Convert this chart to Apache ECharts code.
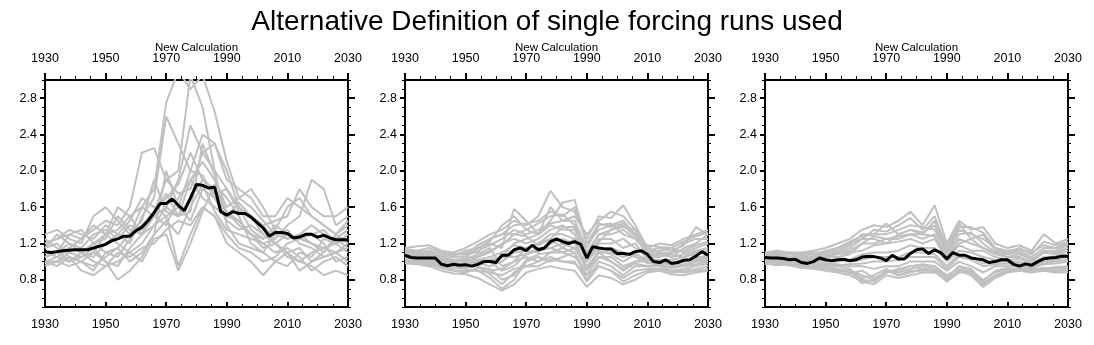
<!DOCTYPE html>
<html>
<head>
<meta charset="utf-8">
<script src="https://cdn.jsdelivr.net/npm/echarts@6/dist/echarts.min.js"></script>
<style>
html,body{margin:0;padding:0;background:#fff;}
#chart{width:1094px;height:345px;}
</style>
</head>
<body>
<div id="chart"></div>
<script>
// ---------- DATA ----------
const titleText = "Alternative Definition of single forcing runs used";
const topAxisName = "New Calculation";
const xTickLabels = [1930, 1950, 1970, 1990, 2010, 2030];
const xMinorTicks = [1930,1935,1940,1945,1950,1955,1960,1965,1970,1975,1980,1985,1990,1995,2000,2005,2010,2015,2020,2025,2030];
const yTickLabels = [0.8, 1.2, 1.6, 2.0, 2.4, 2.8];
const yMinorTicks = [0.5,0.6,0.7,0.8,0.9,1.0,1.1,1.2,1.3,1.4,1.5,1.6,1.7,1.8,1.9,2.0,2.1,2.2,2.3,2.4,2.5,2.6,2.7,2.8,2.9,3.0];

// member years (every 4 years)
const years4 = [1930,1934,1938,1942,1946,1950,1954,1958,1962,1966,1970,1974,1978,1982,1986,1990,1994,1998,2002,2006,2010,2014,2018,2022,2026,2030];
// mean years (every 2 years)
const years2 = [1930,1932,1934,1936,1938,1940,1942,1944,1946,1948,1950,1952,1954,1956,1958,1960,1962,1964,1966,1968,1970,1972,1974,1976,1978,1980,1982,1984,1986,1988,1990,1992,1994,1996,1998,2000,2002,2004,2006,2008,2010,2012,2014,2016,2018,2020,2022,2024,2026,2028,2030];

// Panel 1 members
const p1m1  = [1.05,1.1,1.15,1.1,1.2,1.3,1.35,1.5,1.6,1.8,2.75,3.1,2.9,3.05,2.65,2.1,1.7,1.6,1.45,1.3,1.25,1.3,1.2,1.15,1.1,1.2];
const p1m2  = [1.2,1.25,1.3,1.25,1.35,1.45,1.4,1.6,2.2,2.25,1.9,2.0,3.05,2.7,2.0,1.8,1.55,1.5,1.3,1.2,1.3,1.25,1.3,1.35,1.2,1.3];
const p1m3  = [1.0,1.05,1.0,1.1,1.05,1.2,1.3,1.2,1.5,1.7,2.6,2.3,2.0,2.4,2.3,1.9,1.8,1.7,1.5,1.5,1.7,1.6,1.5,1.4,1.3,1.45];
const p1m4  = [1.1,1.1,1.2,1.15,1.3,1.35,1.25,1.4,1.35,1.5,1.6,1.9,2.5,2.2,2.3,2.0,1.6,1.5,1.4,1.2,1.1,1.15,1.0,1.05,1.1,1.0];
const p1m5  = [1.3,1.35,1.25,1.2,1.5,1.6,1.45,1.3,1.45,1.9,1.55,1.5,1.7,1.9,1.8,1.55,1.45,1.3,1.2,1.25,1.4,1.5,1.9,1.8,1.4,1.5];
const p1m6  = [0.95,1.0,1.05,0.9,0.85,0.95,1.0,1.1,1.2,1.4,1.5,0.95,1.3,1.6,1.5,1.2,1.1,1.0,0.85,1.0,1.1,1.0,0.95,0.85,0.9,0.85];
const p1m7  = [1.0,1.0,1.1,1.05,1.15,1.0,0.8,0.9,1.05,1.3,2.0,1.6,1.45,1.8,1.7,1.45,1.35,1.4,1.3,1.2,1.05,1.0,1.1,1.15,1.2,1.1];
const p1m8  = [1.15,1.2,1.05,1.0,0.9,1.1,1.15,1.3,1.6,1.5,1.4,1.7,1.9,2.1,1.9,1.6,1.7,1.8,1.6,1.35,1.25,1.3,1.4,1.3,1.25,1.35];
const p1m9  = [1.05,1.1,1.3,1.35,1.2,1.25,1.5,1.35,1.3,1.55,1.9,1.75,1.8,2.2,2.0,1.4,1.2,1.15,1.1,1.3,1.35,1.2,1.15,1.05,1.1,1.15];
const p1m10 = [1.25,1.15,1.0,1.1,1.0,0.95,1.1,1.05,1.15,1.2,1.35,1.45,1.4,1.6,1.5,1.3,1.15,1.1,1.0,1.05,1.2,1.25,1.3,1.2,1.0,1.05];
const p1m11 = [0.98,1.0,0.95,1.0,1.1,1.3,1.6,1.5,1.3,1.4,1.6,1.5,1.9,1.7,1.6,1.5,1.65,1.5,1.4,1.45,1.5,1.8,1.6,1.5,1.5,1.6];
const p1m12 = [1.1,1.05,1.15,1.25,1.4,1.3,1.2,1.1,1.0,1.25,1.3,0.9,1.2,1.55,1.85,1.7,1.5,1.2,1.1,1.0,0.95,1.1,1.05,1.25,1.2,1.25];
const p1m13 = [1.15,1.3,1.2,1.1,1.2,1.1,1.05,1.25,1.4,1.55,1.7,1.85,2.2,1.9,1.75,1.8,1.6,1.35,1.25,1.4,1.3,1.25,1.2,1.1,1.3,1.2];
const p1m14 = [1.0,0.95,1.05,1.0,0.95,1.05,1.15,1.0,1.1,1.3,1.45,1.3,1.6,1.85,1.55,1.35,1.3,1.25,1.2,1.1,1.15,1.05,0.9,1.0,1.05,0.95];
const p1m15 = [1.2,1.25,1.35,1.3,1.25,1.4,1.3,1.45,1.7,1.6,1.5,1.6,2.0,1.95,1.7,1.55,1.4,1.3,1.25,1.35,1.6,1.7,1.5,1.4,1.3,1.4];
const p1m16 = [1.05,1.1,1.0,1.05,1.1,1.0,0.95,1.15,1.3,1.5,1.75,1.5,1.55,2.3,1.95,1.5,1.45,1.3,1.15,1.2,1.1,0.9,1.0,1.1,1.25,1.15];
const p1Mean = [1.11,1.10,1.11,1.12,1.125,1.13,1.13,1.13,1.15,1.17,1.19,1.23,1.25,1.28,1.28,1.34,1.38,1.45,1.54,1.64,1.64,1.69,1.62,1.56,1.70,1.85,1.84,1.81,1.82,1.55,1.51,1.55,1.53,1.53,1.49,1.43,1.37,1.28,1.32,1.32,1.31,1.26,1.27,1.30,1.30,1.27,1.29,1.26,1.24,1.24,1.24];

// Panel 2 members
const p2m1  = [1.15,1.17,1.18,1.12,1.1,1.15,1.22,1.3,1.35,1.45,1.4,1.5,1.78,1.6,1.55,1.25,1.5,1.48,1.62,1.4,1.15,1.2,1.18,1.25,1.3,1.35];
const p2m2  = [0.98,0.97,0.95,0.9,0.87,0.86,0.82,0.75,0.68,0.75,0.88,0.92,0.95,0.92,0.9,0.72,0.85,0.82,0.75,0.8,0.88,0.9,0.86,0.85,0.88,0.9];
const p2m3  = [1.05,1.08,1.1,1.0,1.0,1.05,1.15,1.2,1.15,1.58,1.45,1.3,1.45,1.65,1.68,1.2,1.35,1.4,1.45,1.3,1.05,1.1,1.05,1.15,1.2,1.3];
const p2m4  = [1.0,1.02,1.0,0.95,0.93,0.92,0.9,0.82,0.7,0.8,1.0,1.05,1.0,1.05,1.1,0.8,1.0,0.95,0.85,0.95,0.95,0.95,0.9,0.92,0.95,0.98];
const p2m5  = [1.1,1.12,1.1,1.05,1.08,1.1,1.1,1.25,1.3,1.3,1.35,1.42,1.5,1.52,1.4,1.1,1.3,1.35,1.38,1.35,1.1,1.12,1.15,1.1,1.15,1.2];
const p2m6  = [1.02,1.0,0.98,0.95,0.97,0.98,0.95,0.9,0.92,1.0,1.05,1.0,1.1,1.1,1.05,0.9,1.05,1.05,0.95,1.0,1.0,0.95,0.95,0.97,1.0,1.02];
const p2m7  = [1.08,1.05,1.05,1.02,1.0,1.0,1.05,1.1,1.2,1.25,1.2,1.25,1.35,1.4,1.3,1.0,1.2,1.2,1.25,1.15,1.05,1.05,1.08,1.05,1.1,1.12];
const p2m8  = [1.06,1.03,1.02,0.98,0.95,0.95,0.98,0.95,1.0,1.1,1.12,1.1,1.2,1.25,1.2,0.95,1.1,1.1,1.05,1.1,0.98,1.0,1.0,1.0,1.05,1.05];
const p2m9  = [1.12,1.1,1.08,1.06,1.05,1.06,1.12,1.18,1.25,1.35,1.3,1.35,1.42,1.45,1.45,1.15,1.4,1.42,1.3,1.25,1.15,1.1,1.1,1.2,1.25,1.25];
const p2m10 = [1.0,0.98,0.97,0.93,0.9,0.9,0.9,0.88,0.85,0.92,0.95,0.95,1.02,1.0,0.98,0.85,0.95,0.9,0.82,0.9,0.92,0.92,0.88,0.9,0.92,0.95];
const p2m11 = [1.04,1.06,1.04,1.0,0.98,1.02,1.02,1.05,1.1,1.18,1.15,1.2,1.3,1.3,1.25,1.05,1.25,1.25,1.15,1.2,1.02,1.02,1.02,1.05,1.08,1.1];
const p2m12 = [1.09,1.07,1.06,1.02,1.02,1.0,1.0,1.02,1.05,1.05,1.08,1.15,1.15,1.2,1.15,1.0,1.15,1.15,1.1,1.05,1.0,1.0,0.98,1.02,1.02,1.08];
const p2m13 = [1.13,1.1,1.12,1.08,1.06,1.12,1.15,1.22,1.4,1.5,1.35,1.3,1.6,1.45,1.5,1.3,1.45,1.55,1.5,1.35,1.12,1.15,1.12,1.18,1.38,1.3];
const p2m14 = [1.01,1.0,1.0,0.96,0.92,0.94,0.95,0.86,0.75,0.88,0.95,1.0,1.05,1.0,1.0,0.78,0.95,0.9,0.78,0.85,0.9,0.92,0.9,0.88,0.9,0.92];
const p2m15 = [1.03,1.05,1.07,0.97,0.95,0.97,1.0,1.0,1.05,1.2,1.25,1.3,1.4,1.35,1.35,1.1,1.3,1.3,1.35,1.25,1.1,1.08,1.05,1.08,1.12,1.15];
const p2m16 = [1.11,1.08,1.1,1.04,1.02,1.03,1.08,1.15,0.95,1.0,1.15,1.2,1.25,1.15,1.25,0.9,1.1,1.0,0.92,1.0,1.05,1.0,1.0,0.95,1.0,1.0];
const p2m17 = [1.07,1.09,1.05,1.0,0.99,1.04,1.06,1.12,1.18,1.3,1.28,1.18,1.25,1.38,1.38,1.0,1.22,1.35,1.4,1.28,1.08,1.06,1.1,1.12,1.18,1.22];
const p2m18 = [0.99,1.01,0.98,0.94,0.9,0.88,0.93,0.92,0.8,0.85,1.02,1.08,1.1,1.15,1.1,0.85,1.05,1.0,0.9,0.98,0.95,0.97,0.93,0.95,0.97,1.0];
const p2m19 = [1.14,1.12,1.15,1.1,1.08,1.08,1.18,1.25,1.3,1.4,1.42,1.45,1.55,1.5,1.6,1.2,1.42,1.38,1.42,1.3,1.18,1.16,1.15,1.22,1.28,1.32];
const p2m20 = [1.05,1.04,1.03,0.99,0.96,0.98,0.97,1.0,0.9,0.95,1.08,1.12,1.15,1.1,1.15,0.92,1.12,1.08,1.0,1.08,1.02,0.98,0.97,1.0,1.02,1.04];
const p2Mean = [1.07,1.045,1.04,1.04,1.04,1.04,0.97,0.955,0.97,0.96,0.965,0.95,0.97,1.0,1.0,0.99,1.07,1.07,1.13,1.15,1.12,1.18,1.13,1.15,1.22,1.25,1.22,1.2,1.22,1.19,1.04,1.165,1.15,1.14,1.14,1.09,1.09,1.08,1.11,1.12,1.08,1.0,0.99,1.02,0.98,0.99,1.015,1.02,1.06,1.11,1.07];

// Panel 3 members
const p3m1  = [1.1,1.12,1.1,1.1,1.12,1.15,1.2,1.25,1.35,1.4,1.38,1.45,1.55,1.4,1.62,1.2,1.45,1.35,1.38,1.2,1.15,1.18,1.12,1.3,1.2,1.25];
const p3m2  = [0.98,0.97,0.96,0.93,0.92,0.9,0.88,0.85,0.78,0.75,0.85,0.82,0.85,0.88,0.88,0.8,0.9,0.85,0.72,0.82,0.88,0.9,0.88,0.9,0.88,0.88];
const p3m3  = [1.07,1.08,1.06,1.05,1.06,1.1,1.12,1.18,1.3,1.3,1.3,1.35,1.4,1.38,1.35,1.1,1.35,1.3,1.25,1.15,1.1,1.12,1.05,1.15,1.15,1.2];
const p3m4  = [1.0,1.0,0.98,0.96,0.95,0.95,0.92,0.9,0.85,0.8,0.9,0.88,0.92,0.95,0.92,0.82,0.95,0.9,0.8,0.88,0.92,0.92,0.9,0.93,0.92,0.92];
const p3m5  = [1.05,1.05,1.04,1.02,1.02,1.05,1.05,1.08,1.2,1.2,1.25,1.25,1.3,1.3,1.28,1.05,1.25,1.2,1.15,1.08,1.05,1.05,1.0,1.1,1.1,1.15];
const p3m6  = [1.02,1.02,1.0,0.98,0.98,0.98,0.97,0.95,0.95,0.92,0.95,0.95,1.0,1.0,1.0,0.9,1.0,0.95,0.88,0.95,0.95,0.95,0.93,0.97,0.98,1.0];
const p3m7  = [1.09,1.1,1.08,1.07,1.08,1.12,1.15,1.2,1.25,1.35,1.33,1.4,1.48,1.35,1.5,1.15,1.42,1.25,1.3,1.12,1.1,1.15,1.08,1.22,1.18,1.22];
const p3m8  = [1.04,1.03,1.02,1.0,1.0,1.0,1.0,1.02,1.08,1.1,1.1,1.12,1.18,1.15,1.15,1.0,1.12,1.1,1.05,1.02,1.0,1.0,0.96,1.02,1.05,1.08];
const p3m9  = [1.01,1.0,0.99,0.97,0.96,0.96,0.95,0.92,0.8,0.78,0.88,0.9,0.95,0.92,0.95,0.85,0.92,0.9,0.76,0.85,0.9,0.93,0.91,0.92,0.94,0.95];
const p3m10 = [1.06,1.06,1.05,1.04,1.04,1.07,1.1,1.15,1.25,1.25,1.2,1.3,1.35,1.32,1.4,1.08,1.3,1.32,1.2,1.1,1.08,1.1,1.02,1.12,1.12,1.18];
const p3m11 = [1.03,1.04,1.02,1.01,1.0,1.02,1.02,1.0,1.02,1.05,1.05,1.05,1.1,1.1,1.08,0.95,1.08,1.05,0.98,1.0,1.0,0.98,0.95,1.0,1.02,1.05];
const p3m12 = [0.99,0.98,0.98,0.95,0.94,0.93,0.9,0.88,0.82,0.85,0.92,0.85,0.9,0.9,0.9,0.78,0.88,0.88,0.75,0.85,0.9,0.92,0.9,0.9,0.9,0.9];
const p3m13 = [1.08,1.07,1.09,1.06,1.05,1.08,1.1,1.12,1.2,1.28,1.25,1.28,1.3,1.25,1.3,1.05,1.2,1.25,1.15,1.1,1.05,1.08,1.03,1.1,1.08,1.15];
const p3m14 = [0.97,0.99,0.96,0.95,0.93,0.92,0.92,0.87,0.9,0.82,0.88,0.92,0.95,0.97,0.95,0.82,0.95,0.92,0.78,0.9,0.93,0.9,0.92,0.92,0.93,0.94];
const p3m15 = [1.05,1.06,1.03,1.03,1.03,1.06,1.08,1.1,1.12,1.18,1.2,1.22,1.25,1.2,1.25,1.02,1.18,1.12,1.12,1.05,1.02,1.03,0.98,1.05,1.06,1.12];
const p3m16 = [1.0,1.01,0.99,0.98,0.97,0.97,0.96,0.97,0.98,1.0,1.0,1.02,1.05,1.05,1.05,0.92,1.05,1.02,0.95,0.97,0.98,0.97,0.94,0.98,1.0,1.02];
const p3m17 = [1.1,1.08,1.1,1.08,1.1,1.1,1.15,1.22,1.28,1.3,1.42,1.3,1.35,1.3,1.45,1.12,1.38,1.38,1.32,1.15,1.12,1.14,1.1,1.18,1.15,1.2];
const p3m18 = [0.98,0.96,0.97,0.94,0.93,0.92,0.9,0.9,0.76,0.8,0.9,0.85,0.88,0.92,0.9,0.78,0.9,0.88,0.74,0.84,0.89,0.9,0.9,0.91,0.9,0.91];
const p3Mean = [1.045,1.04,1.04,1.035,1.02,1.025,0.99,0.98,1.0,1.04,1.02,1.01,1.02,1.025,1.01,1.02,1.05,1.06,1.055,1.04,1.01,1.07,1.03,1.03,1.09,1.13,1.14,1.09,1.13,1.10,1.03,1.10,1.07,1.07,1.04,1.03,1.02,0.99,1.0,1.02,1.02,0.97,0.95,0.975,0.96,1.0,1.03,1.04,1.045,1.06,1.06];

const panelMembers = [
  [p1m1,p1m2,p1m3,p1m4,p1m5,p1m6,p1m7,p1m8,p1m9,p1m10,p1m11,p1m12,p1m13,p1m14,p1m15,p1m16],
  [p2m1,p2m2,p2m3,p2m4,p2m5,p2m6,p2m7,p2m8,p2m9,p2m10,p2m11,p2m12,p2m13,p2m14,p2m15,p2m16,p2m17,p2m18,p2m19,p2m20],
  [p3m1,p3m2,p3m3,p3m4,p3m5,p3m6,p3m7,p3m8,p3m9,p3m10,p3m11,p3m12,p3m13,p3m14,p3m15,p3m16,p3m17,p3m18]
];
const panelMeans = [p1Mean, p2Mean, p3Mean];

// ---------- LAYOUT / STYLE ----------
const FONT = "'Liberation Sans', Arial, Helvetica, sans-serif";
const gridLefts = [45, 405, 765];
const gridW = 303, gridTop = 80, gridH = 227;
const XMIN = 1930, XMAX = 2030, YMIN = 0.5, YMAX = 3.0;

const grids = [], xAxes = [], yAxes = [], series = [];
gridLefts.forEach((l, p) => {
  grids.push({left: l, top: gridTop, width: gridW, height: gridH, containLabel: false});
  const lineStyle = {color: '#000', width: 2};
  // bottom major
  xAxes.push({gridIndex: p, type: 'value', position: 'bottom', min: XMIN, max: XMAX,
    axisLine: {show: true, onZero: false, lineStyle},
    axisTick: {show: true, inside: true, length: 5, customValues: xTickLabels, lineStyle: {width: 2, color: '#000'}},
    axisLabel: {show: true, customValues: xTickLabels, margin: 11, color: '#000', fontSize: 12.5, fontFamily: FONT,
      formatter: v => String(Math.round(v))},
    splitLine: {show: false}});
  // top major
  xAxes.push({gridIndex: p, type: 'value', position: 'top', min: XMIN, max: XMAX,
    name: topAxisName, nameLocation: 'middle', nameGap: 26, nameMoveOverlap: false,
    nameTextStyle: {color: '#000', fontSize: 11.5, fontFamily: FONT},
    axisLine: {show: true, onZero: false, lineStyle},
    axisTick: {show: true, inside: false, length: 7, customValues: xTickLabels, lineStyle: {width: 2, color: '#000'}},
    axisLabel: {show: true, customValues: xTickLabels, margin: 15, color: '#000', fontSize: 12.5, fontFamily: FONT,
      formatter: v => String(Math.round(v))},
    splitLine: {show: false}});
  // bottom minor
  xAxes.push({gridIndex: p, type: 'value', position: 'bottom', min: XMIN, max: XMAX,
    axisLine: {show: false, onZero: false},
    axisTick: {show: true, inside: true, length: 3, customValues: xMinorTicks, lineStyle: {width: 1, color: '#000'}},
    axisLabel: {show: false}, splitLine: {show: false}});
  // top minor
  xAxes.push({gridIndex: p, type: 'value', position: 'top', min: XMIN, max: XMAX,
    axisLine: {show: false, onZero: false},
    axisTick: {show: true, inside: false, length: 4, customValues: xMinorTicks, lineStyle: {width: 1, color: '#000'}},
    axisLabel: {show: false}, splitLine: {show: false}});

  // left major
  yAxes.push({gridIndex: p, type: 'value', position: 'left', min: YMIN, max: YMAX,
    axisLine: {show: true, onZero: false, lineStyle},
    axisTick: {show: true, inside: false, length: 5, customValues: yTickLabels, lineStyle: {width: 2, color: '#000'}},
    axisLabel: {show: true, customValues: yTickLabels, margin: 8, color: '#000', fontSize: 12.5, fontFamily: FONT,
      formatter: v => Number(v).toFixed(1)},
    splitLine: {show: false}});
  // right major
  yAxes.push({gridIndex: p, type: 'value', position: 'right', min: YMIN, max: YMAX,
    axisLine: {show: true, onZero: false, lineStyle},
    axisTick: {show: true, inside: false, length: 7, customValues: yTickLabels, lineStyle: {width: 2, color: '#000'}},
    axisLabel: {show: false}, splitLine: {show: false}});
  // left minor
  yAxes.push({gridIndex: p, type: 'value', position: 'left', min: YMIN, max: YMAX,
    axisLine: {show: false, onZero: false},
    axisTick: {show: true, inside: false, length: 3, customValues: yMinorTicks, lineStyle: {width: 1, color: '#000'}},
    axisLabel: {show: false}, splitLine: {show: false}});
  // right minor
  yAxes.push({gridIndex: p, type: 'value', position: 'right', min: YMIN, max: YMAX,
    axisLine: {show: false, onZero: false},
    axisTick: {show: true, inside: false, length: 3, customValues: yMinorTicks, lineStyle: {width: 1, color: '#000'}},
    axisLabel: {show: false}, splitLine: {show: false}});

  panelMembers[p].forEach((arr, k) => {
    series.push({type: 'line', xAxisIndex: 4 * p, yAxisIndex: 4 * p, name: 'member' + (k + 1),
      data: years4.map((yr, i) => [yr, arr[i]]),
      showSymbol: false, symbol: 'none', silent: true, z: 2, clip: true,
      lineStyle: {color: '#c0c0c0', width: 2}});
  });
  series.push({type: 'line', xAxisIndex: 4 * p, yAxisIndex: 4 * p, name: 'mean',
    data: years2.map((yr, i) => [yr, panelMeans[p][i]]),
    showSymbol: false, symbol: 'none', silent: true, z: 3, clip: true,
    lineStyle: {color: '#000', width: 3}});
});

const chart = echarts.init(document.getElementById('chart'), null, {renderer: 'canvas'});
chart.setOption({
  animation: false,
  backgroundColor: '#fff',
  title: {text: titleText, left: 'center', top: 3,
    textStyle: {color: '#000', fontSize: 28, fontWeight: 'normal', fontFamily: FONT}},
  grid: grids,
  xAxis: xAxes,
  yAxis: yAxes,
  series: series
});
</script>
</body>
</html>
